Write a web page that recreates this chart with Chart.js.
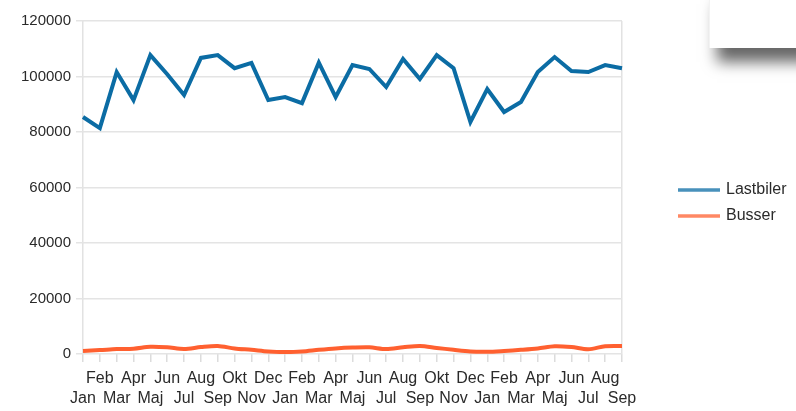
<!DOCTYPE html>
<html>
<head>
<meta charset="utf-8">
<script src="https://cdn.jsdelivr.net/npm/chart.js@4.4.0/dist/chart.umd.min.js"></script>
<style>
  body { margin: 0; background: #fff; }
  #wrap { position: relative; width: 796px; height: 411px; overflow: hidden; }
  #panel {
    position: absolute; left: 709px; top: -10px; width: 100px; height: 58px;
    background: #fff; border-left: 1px solid #f3f3f3;
    box-shadow: 8px 14px 14px rgba(0,0,0,0.6);
  }
</style>
</head>
<body>
<div id="wrap">
  <canvas id="myChart" width="796" height="411"></canvas>
  <div id="panel"></div>
</div>
<script>
// month labels, Jan year 1 .. Sep year 3
var months = ['Jan','Feb','Mar','Apr','Maj','Jun','Jul','Aug','Sep','Okt','Nov','Dec',
              'Jan','Feb','Mar','Apr','Maj','Jun','Jul','Aug','Sep','Okt','Nov','Dec',
              'Jan','Feb','Mar','Apr','Maj','Jun','Jul','Aug','Sep'];

var lastbiler = [85400, 81400, 101600, 91500, 107700, 100800, 93300, 106700, 107700, 103000, 104900, 91500,
                 92600, 90400, 105000, 92600, 104100, 102700, 96200, 106300, 99100, 107700, 103000, 83600,
                 95500, 87200, 90800, 101600, 107000, 102000, 101600, 104100, 103000];

var busser = [1100, 1400, 1800, 1900, 2600, 2400, 1800, 2500, 2900, 2000, 1500, 900,
              700, 900, 1500, 2000, 2300, 2400, 1800, 2400, 2900, 2200, 1500, 900,
              800, 1100, 1500, 2000, 2800, 2500, 1700, 2800, 2900];

var yTicks = [0, 20000, 40000, 60000, 80000, 100000, 120000];

var seriesNames = ['Lastbiler', 'Busser'];
var seriesColors = ['#0b6ca4', '#ff6030'];

// simple legend on the right side
var sideLegend = {
  id: 'sideLegend',
  afterDraw: function(chart) {
    var ctx = chart.ctx;
    var x0 = chart.chartArea.right + 56;
    ctx.save();
    chart.data.datasets.forEach(function(ds, i) {
      var y = 190 + i * 26;
      ctx.strokeStyle = ds.borderColor;
      ctx.globalAlpha = 0.75;
      ctx.lineWidth = 3.5;
      ctx.beginPath();
      ctx.moveTo(x0, y);
      ctx.lineTo(x0 + 42, y);
      ctx.stroke();
      ctx.globalAlpha = 1;
      ctx.fillStyle = '#2a2a2a';
      ctx.font = '16px "Liberation Sans", Arial, sans-serif';
      ctx.textBaseline = 'middle';
      ctx.fillText(ds.label, x0 + 48, y);
    });
    ctx.restore();
  }
};

var lastIdx = months.length - 1;

var ctx = document.getElementById('myChart');
var myChart = new Chart(ctx, {
  type: 'line',
  data: {
    labels: months,
    datasets: [{
      label: seriesNames[0],
      data: lastbiler,
      borderColor: seriesColors[0],
      backgroundColor: seriesColors[0],
      borderWidth: 4,
      pointRadius: 0,
      tension: 0
    }, {
      label: seriesNames[1],
      data: busser,
      borderColor: seriesColors[1],
      backgroundColor: seriesColors[1],
      borderWidth: 4,
      pointRadius: 0,
      tension: 0.3
    }]
  },
  options: {
    responsive: false,
    animation: false,
    layout: { padding: { top: 21, right: 174, bottom: 0, left: 0 } },
    plugins: {
      legend: { display: false },
      tooltip: { enabled: false }
    },
    scales: {
      x: {
        offset: false,
        grid: {
          color: function(c) { return (c.index === 0 || c.index === lastIdx) ? '#e2e2e2' : 'rgba(0,0,0,0)'; },
          tickColor: '#dcdcdc',
          tickLength: 8,
          lineWidth: 1.5
        },
        border: { display: false },
        ticks: {
          autoSkip: false,
          maxRotation: 0,
          minRotation: 0,
          padding: 7,
          color: '#2a2a2a',
          font: { family: '"Liberation Sans", Arial, sans-serif', size: 16, lineHeight: 1.25 },
          callback: function(value, index) {
            var l = this.getLabelForValue(value);
            return index % 2 ? [l, ''] : ['', l];
          }
        },
        afterFit: function(scale) { scale.height = 57; }
      },
      y: {
        min: 0,
        max: 120000,
        afterBuildTicks: function(scale) {
          scale.ticks = yTicks.map(function(v) { return { value: v }; });
        },
        grid: {
          color: '#e4e4e4',
          tickColor: '#e4e4e4',
          tickLength: 7,
          lineWidth: 1.5
        },
        border: { display: false },
        ticks: {
          padding: 5,
          color: '#2a2a2a',
          font: { family: '"Liberation Sans", Arial, sans-serif', size: 15 },
          callback: function(v) { return String(v); }
        },
        afterFit: function(scale) { scale.width = 83; }
      }
    }
  },
  plugins: [sideLegend]
});
</script>
</body>
</html>
